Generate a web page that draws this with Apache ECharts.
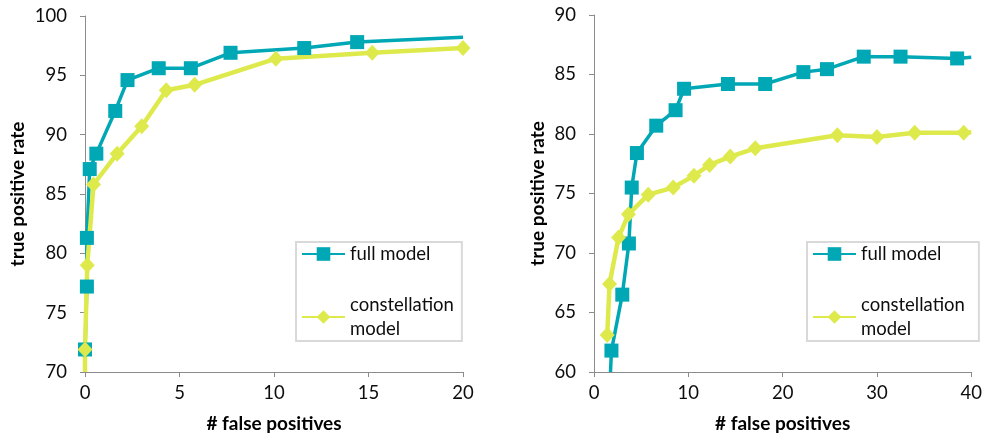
<!DOCTYPE html>
<html>
<head>
<meta charset="utf-8">
<script src="https://cdn.jsdelivr.net/npm/echarts@6/dist/echarts.min.js"></script>
<style>
html,body{margin:0;padding:0;background:#fff;}
#chart{width:985px;height:440px;}
</style>
</head>
<body>
<div id="chart"></div>
<script>
// ---- data ----
var seriesNames = ['full model', 'constellation model'];

// left panel
var leftXTicks = [0, 5, 10, 15, 20];
var leftYTicks = [70, 75, 80, 85, 90, 95, 100];
var leftFullX = [0, 0.1, 0.1, 0.25, 0.6, 1.6, 2.25, 3.9, 5.6, 7.7, 11.6, 14.4];
var leftFullY = [71.9, 77.2, 81.3, 87.1, 88.4, 92.0, 94.6, 95.6, 95.6, 96.9, 97.3, 97.8];
var leftFullLineEnd = [20, 98.2];
var leftConstLineStart = [0, 70];
var leftConstX = [0, 0.12, 0.45, 1.7, 3.0, 4.3, 5.8, 10.1, 15.2, 20];
var leftConstY = [71.9, 79.0, 85.8, 88.4, 90.7, 93.75, 94.2, 96.4, 96.9, 97.3];

// right panel
var rightXTicks = [0, 10, 20, 30, 40];
var rightYTicks = [60, 65, 70, 75, 80, 85, 90];
var rightFullLineStart = [1.75, 60];
var rightFullX = [1.85, 3.0, 3.7, 4.0, 4.55, 6.6, 8.65, 9.55, 14.2, 18.15, 22.2, 24.7, 28.6, 32.5, 38.5];
var rightFullY = [61.8, 66.5, 70.8, 75.5, 78.4, 80.7, 82.0, 83.8, 84.2, 84.2, 85.2, 85.45, 86.5, 86.5, 86.35];
var rightFullLineEnd = [40, 86.45];
var rightConstX = [1.4, 1.65, 2.6, 3.65, 5.75, 8.4, 10.6, 12.25, 14.45, 17.1, 25.8, 30.0, 34.0, 39.2];
var rightConstY = [63.1, 67.4, 71.3, 73.25, 74.9, 75.5, 76.5, 77.4, 78.1, 78.8, 79.9, 79.75, 80.1, 80.1];
var rightConstLineEnd = [40, 80.15];

var xTitle = '# false positives';
var yTitle = 'true positive rate';

// ---- build ----
function pts(xs, ys) {
  return xs.map(function (x, i) { return [x, ys[i]]; });
}
function bare(p) { return { value: p, symbol: 'none' }; }

var FONT = 'Lato';
var TEAL = '#00A7B5';
var YEL = '#DEEA4C';
var AXIS = '#8C8C8C';
var TXT = '#0d0d0d';

function xAxisOpt(idx, ticks) {
  return {
    gridIndex: idx, type: 'value',
    min: ticks[0], max: ticks[ticks.length - 1], interval: ticks[1] - ticks[0],
    name: xTitle, nameLocation: 'middle', nameGap: 42,
    nameTextStyle: { fontFamily: FONT, fontSize: 19, fontWeight: 'bold', color: '#000' },
    axisLine: { show: true, lineStyle: { color: AXIS, width: 1 } },
    axisTick: { show: true, inside: false, length: 5, lineStyle: { color: AXIS } },
    axisLabel: { margin: 12, fontFamily: FONT, fontSize: 18.5, color: TXT },
    splitLine: { show: false }
  };
}
function yAxisOpt(idx, ticks, gap) {
  return {
    gridIndex: idx, type: 'value',
    min: ticks[0], max: ticks[ticks.length - 1], interval: ticks[1] - ticks[0],
    name: yTitle, nameLocation: 'middle', nameGap: gap,
    nameTextStyle: { fontFamily: FONT, fontSize: 19, fontWeight: 'bold', color: '#000' },
    axisLine: { show: true, lineStyle: { color: AXIS, width: 1 } },
    axisTick: { show: true, inside: false, length: 5, lineStyle: { color: AXIS } },
    axisLabel: { margin: 18, fontFamily: FONT, fontSize: 18.5, color: TXT },
    splitLine: { show: false }
  };
}
function fullSeries(idx, data) {
  return {
    name: seriesNames[0], type: 'line', xAxisIndex: idx, yAxisIndex: idx,
    data: data, symbol: 'rect', symbolSize: 14, showAllSymbol: true,
    lineStyle: { color: TEAL, width: 3.5 }, itemStyle: { color: TEAL },
    animation: false, emphasis: { disabled: true }
  };
}
function constSeries(idx, data) {
  return {
    name: seriesNames[1], type: 'line', xAxisIndex: idx, yAxisIndex: idx,
    data: data, symbol: 'diamond', symbolSize: [15, 16], showAllSymbol: true,
    lineStyle: { color: YEL, width: 4.5 }, itemStyle: { color: YEL },
    animation: false, emphasis: { disabled: true }
  };
}
function legendOpt(left, padRight) {
  return {
    left: left, top: 242, orient: 'vertical',
    data: seriesNames,
    itemWidth: 43, itemHeight: 17, itemGap: 27,
    padding: [0, padRight, 0, 5],
    borderColor: '#D9D9D9', borderWidth: 2,
    formatter: function (n) { return n === 'constellation model' ? 'constellation\nmodel' : n; },
    textStyle: { fontFamily: FONT, fontSize: 18.5, color: TXT, lineHeight: 24 },
    selectedMode: false
  };
}

var option = {
  backgroundColor: '#fff',
  animation: false,
  grid: [
    { left: 85, top: 16, width: 378, height: 356 },
    { left: 594, top: 15, width: 380, height: 357 }
  ],
  xAxis: [xAxisOpt(0, leftXTicks), xAxisOpt(1, rightXTicks)],
  yAxis: [yAxisOpt(0, leftYTicks, 58), yAxisOpt(1, rightYTicks, 47)],
  legend: [legendOpt(296, 8), legendOpt(807, 14)],
  series: [
    fullSeries(0, pts(leftFullX, leftFullY).concat([bare(leftFullLineEnd)])),
    constSeries(0, [bare(leftConstLineStart)].concat(pts(leftConstX, leftConstY))),
    fullSeries(1, [bare(rightFullLineStart)].concat(pts(rightFullX, rightFullY)).concat([bare(rightFullLineEnd)])),
    constSeries(1, pts(rightConstX, rightConstY).concat([bare(rightConstLineEnd)]))
  ]
};

var chart = echarts.init(document.getElementById('chart'), null, { renderer: 'canvas' });
chart.setOption(option);
</script>
</body>
</html>
